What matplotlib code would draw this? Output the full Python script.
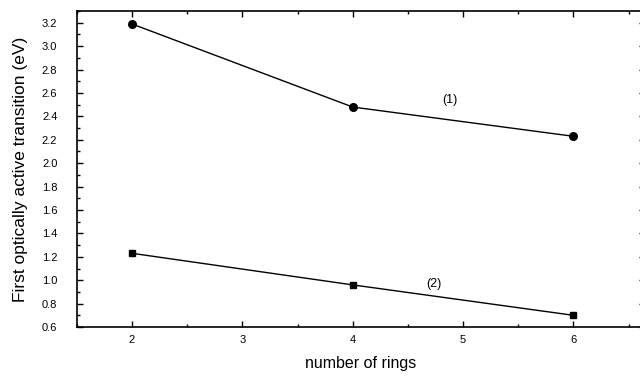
import matplotlib
matplotlib.use("Agg")
import matplotlib.pyplot as plt
from matplotlib.ticker import MultipleLocator, FormatStrFormatter

plt.rcParams['font.family'] = ['Liberation Sans', 'DejaVu Sans']

rings = [2, 4, 6]
series1 = [3.19, 2.48, 2.23]
series2 = [1.23, 0.96, 0.70]
labels = ["(1)", "(2)"]

fig = plt.figure(figsize=(6.4, 3.77), dpi=100)
ax = fig.add_axes([0.120, 0.1326, 0.888, 0.838])

ax.plot(rings, series1, color='black', lw=1.0, marker='o', ms=5.5)
ax.plot(rings, series2, color='black', lw=1.0, marker='s', ms=5)

ax.text(4.88, 2.54, labels[0], fontsize=9, ha='center', va='center')
ax.text(4.74, 0.97, labels[1], fontsize=9, ha='center', va='center')

ax.set_xlim(1.5, 6.65)
ax.set_ylim(0.6, 3.3)
ax.xaxis.set_major_locator(MultipleLocator(1))
ax.xaxis.set_minor_locator(MultipleLocator(0.5))
ax.yaxis.set_major_locator(MultipleLocator(0.2))
ax.yaxis.set_minor_locator(MultipleLocator(0.1))
ax.yaxis.set_major_formatter(FormatStrFormatter('%.1f'))

ax.tick_params(which='both', direction='in', top=True, right=True, labelsize=8, width=1)
ax.tick_params(which='major', length=4)
ax.tick_params(which='minor', length=2)
ax.tick_params(axis='y', which='major', pad=14)
ax.tick_params(axis='x', which='major', pad=6)
for s in ax.spines.values():
    s.set_linewidth(1.2)

ax.set_xlabel("number of rings", fontsize=11.5, labelpad=8)
ax.set_ylabel("First optically active transition (eV)", fontsize=12.5, labelpad=10)

fig.savefig("out.png", dpi=100)
